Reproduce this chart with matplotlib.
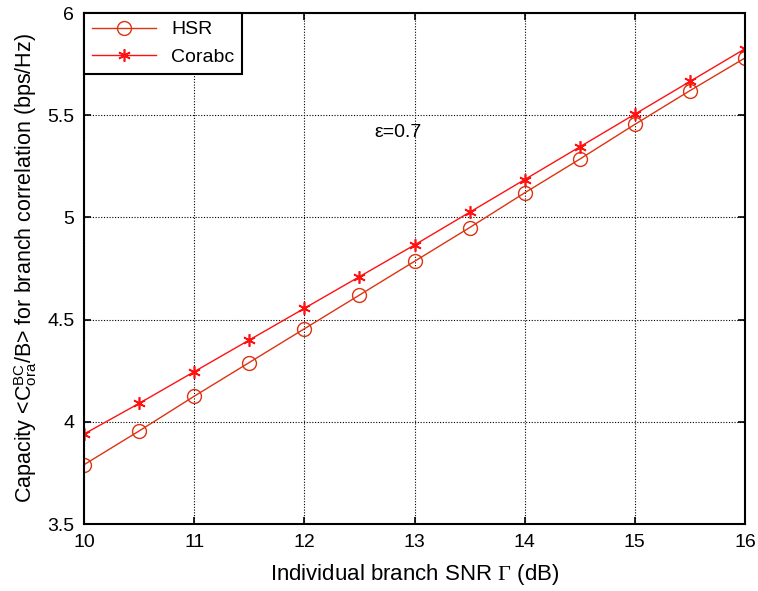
import numpy as np
import matplotlib.pyplot as plt

snr_db = [10, 10.5, 11, 11.5, 12, 12.5, 13, 13.5, 14, 14.5, 15, 15.5, 16]
hsr = [3.79, 3.955, 4.125, 4.29, 4.455, 4.62, 4.785, 4.95, 5.12, 5.285, 5.455, 5.62, 5.78]
corabc = [3.94, 4.09, 4.245, 4.40, 4.555, 4.71, 4.865, 5.025, 5.185, 5.345, 5.505, 5.665, 5.825]

plt.rcParams['font.family'] = ['Liberation Sans', 'DejaVu Sans']
plt.rcParams['mathtext.fontset'] = 'custom'
plt.rcParams['mathtext.rm'] = 'Liberation Serif'
plt.rcParams['mathtext.sf'] = 'Liberation Sans'
plt.rcParams['mathtext.it'] = 'Liberation Serif:italic'

fig = plt.figure(figsize=(7.58, 5.91), dpi=100)
ax = fig.add_axes([84 / 758, 1 - 524 / 591, (745 - 84) / 758, (524 - 13) / 591])

ax.plot(snr_db, hsr, color='#dd3311', marker='o', markersize=10, markerfacecolor='none',
        markeredgewidth=1.0, linewidth=1.0, label='HSR')
ax.plot(snr_db, corabc, color='#ff1111', marker=(6, 2, 0), markersize=9,
        markeredgewidth=1.2, linewidth=1.0, label='Corabc')

ax.set_xlim(10, 16)
ax.set_ylim(3.5, 6)
ax.set_xticks(np.arange(10, 17, 1))
ax.set_yticks([3.5, 4, 4.5, 5, 5.5, 6])
ax.set_yticklabels(['3.5', '4', '4.5', '5', '5.5', '6'])
ax.grid(True, color='black', linestyle=(0, (1, 1.5)), linewidth=0.8)
ax.tick_params(direction='in', labelsize=14, length=5, width=1.2, top=True, right=True, pad=7)
for s in ax.spines.values():
    s.set_linewidth(1.5)

ax.set_xlabel(r'Individual branch SNR $\mathrm{\Gamma}$ (dB)', fontsize=16, labelpad=8)
ax.set_ylabel(r'Capacity <C$^{\mathsf{BC}}_{\mathsf{ora}}$/B> for branch correlation (bps/Hz)',
              fontsize=15.5, labelpad=6)
ax.text(12.64, 5.417, 'ε=0.7', fontsize=14, ha='left', va='center')

leg = ax.legend(loc='upper left', fontsize=14, fancybox=False, edgecolor='black',
                framealpha=1, borderaxespad=0, handlelength=3.3, labelspacing=0.5)
leg.get_frame().set_linewidth(1.5)

fig.savefig('out.png', dpi=100)
